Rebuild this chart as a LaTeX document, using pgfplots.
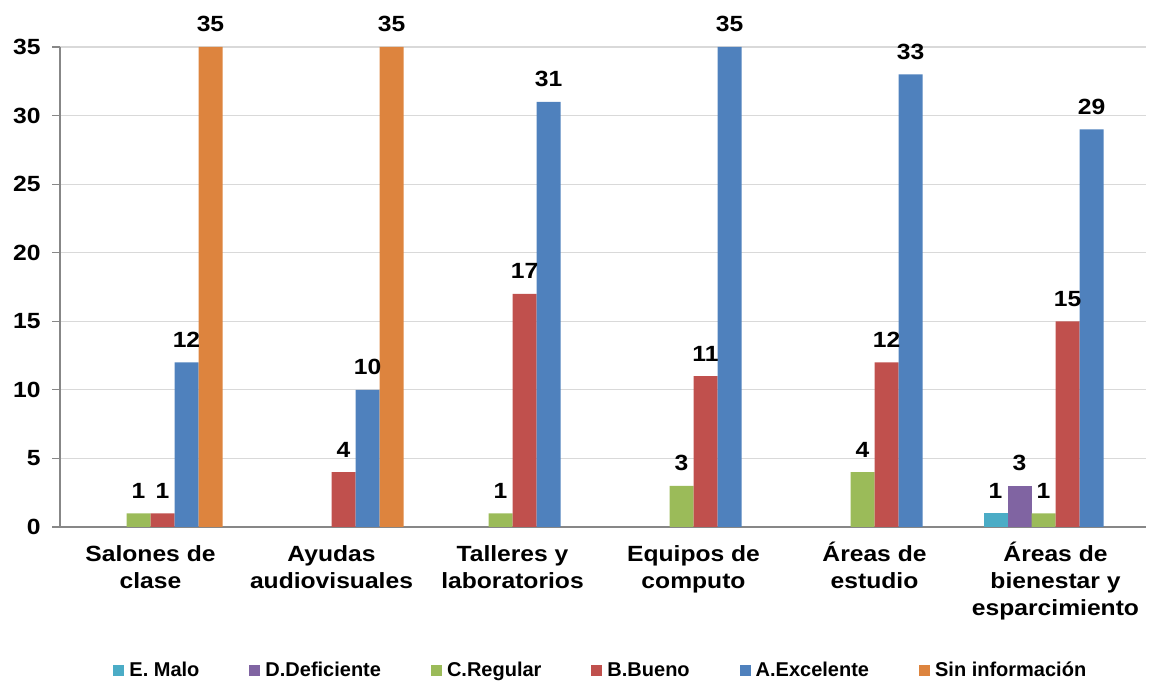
\documentclass[border=0pt]{standalone}
\usepackage{fontspec}
\setmainfont{Liberation Sans}
\newfontfamily\widefont[FakeStretch=1.12]{Liberation Sans}
\usepackage{pgfplots}
\pgfplotsset{compat=1.18}
\definecolor{cE}{HTML}{4BACC6}
\definecolor{cD}{HTML}{8064A2}
\definecolor{cC}{HTML}{9BBB59}
\definecolor{cB}{HTML}{C0504D}
\definecolor{cA}{HTML}{4F81BD}
\definecolor{cS}{HTML}{DD843E}
\definecolor{axgray}{HTML}{878787}
\definecolor{gridgray}{HTML}{D9D9D9}
\begin{document}
\begin{tikzpicture}[x=1pt,y=1pt]
\useasboundingbox (0,0) rectangle (1150,682);
\begin{axis}[
  at={(60pt,155pt)}, anchor=south west,
  scale only axis, width=1086pt, height=480pt,
  ymin=0, ymax=35, ytick={0,5,...,35},
  xmin=-0.5, xmax=5.5,
  xtick={0,1,2,3,4,5},
  xticklabels={{\vphantom{Á}Salones de\\clase},{\vphantom{Á}Ayudas\\audiovisuales},{\vphantom{Á}Talleres y\\laboratorios},{\vphantom{Á}Equipos de\\computo},{\vphantom{Á}Áreas de\\estudio},{\vphantom{Á}Áreas de\\bienestar y\\esparcimiento}},
  extra x ticks={-0.5,0.5,1.5,2.5,3.5,4.5,5.5},
  extra x tick labels={},
  extra x tick style={major tick length=8pt, tick style={draw=axgray, line width=1.2pt}},
  major x tick style={draw=none},
  major tick length=8pt,
  tick align=outside,
  ytick style={draw=axgray, line width=1.2pt},
  axis x line*=bottom, axis y line*=left,
  axis line style={draw=axgray, line width=1.2pt, -},
  ymajorgrids, grid style={draw=gridgray, line width=1.2pt},
  ybar=0pt, bar width=24pt,
  every axis plot/.append style={draw=none, legend image code/.code={\fill[##1,draw=none] (0pt,-5.5pt) rectangle (11pt,5.5pt);}},
  nodes near coords,
  every node near coord/.append style={font=\widefont\fontsize{22}{26}\selectfont\bfseries, anchor=base, inner sep=0pt, yshift=15pt},
  /pgf/number format/assume math mode=true,
  yticklabel style={font=\widefont\fontsize{22}{26}\selectfont\bfseries, xshift=-8pt},
  xticklabel style={font=\widefont\fontsize{22}{27}\selectfont\bfseries, align=center, yshift=-3pt},
  clip=false,
  legend columns=6,
  legend style={at={(0.498,-0.298)}, anchor=center, draw=none, font=\fontsize{20}{22}\selectfont\bfseries,
    /tikz/every odd column/.append style={column sep=3pt},
    /tikz/every even column/.append style={column sep=48pt}},
]
\addplot[fill=cE] coordinates {(5,1)};
\addplot[fill=cD] coordinates {(5,3)};
\addplot[fill=cC] coordinates {(0,1) (2,1) (3,3) (4,4) (5,1)};
\addplot[fill=cB] coordinates {(0,1) (1,4) (2,17) (3,11) (4,12) (5,15)};
\addplot[fill=cA] coordinates {(0,12) (1,10) (2,31) (3,35) (4,33) (5,29)};
\addplot[fill=cS] coordinates {(0,35) (1,35)};
\legend{E. Malo,D.Deficiente,C.Regular,B.Bueno,A.Excelente,Sin información}
\end{axis}
\end{tikzpicture}
\end{document}
